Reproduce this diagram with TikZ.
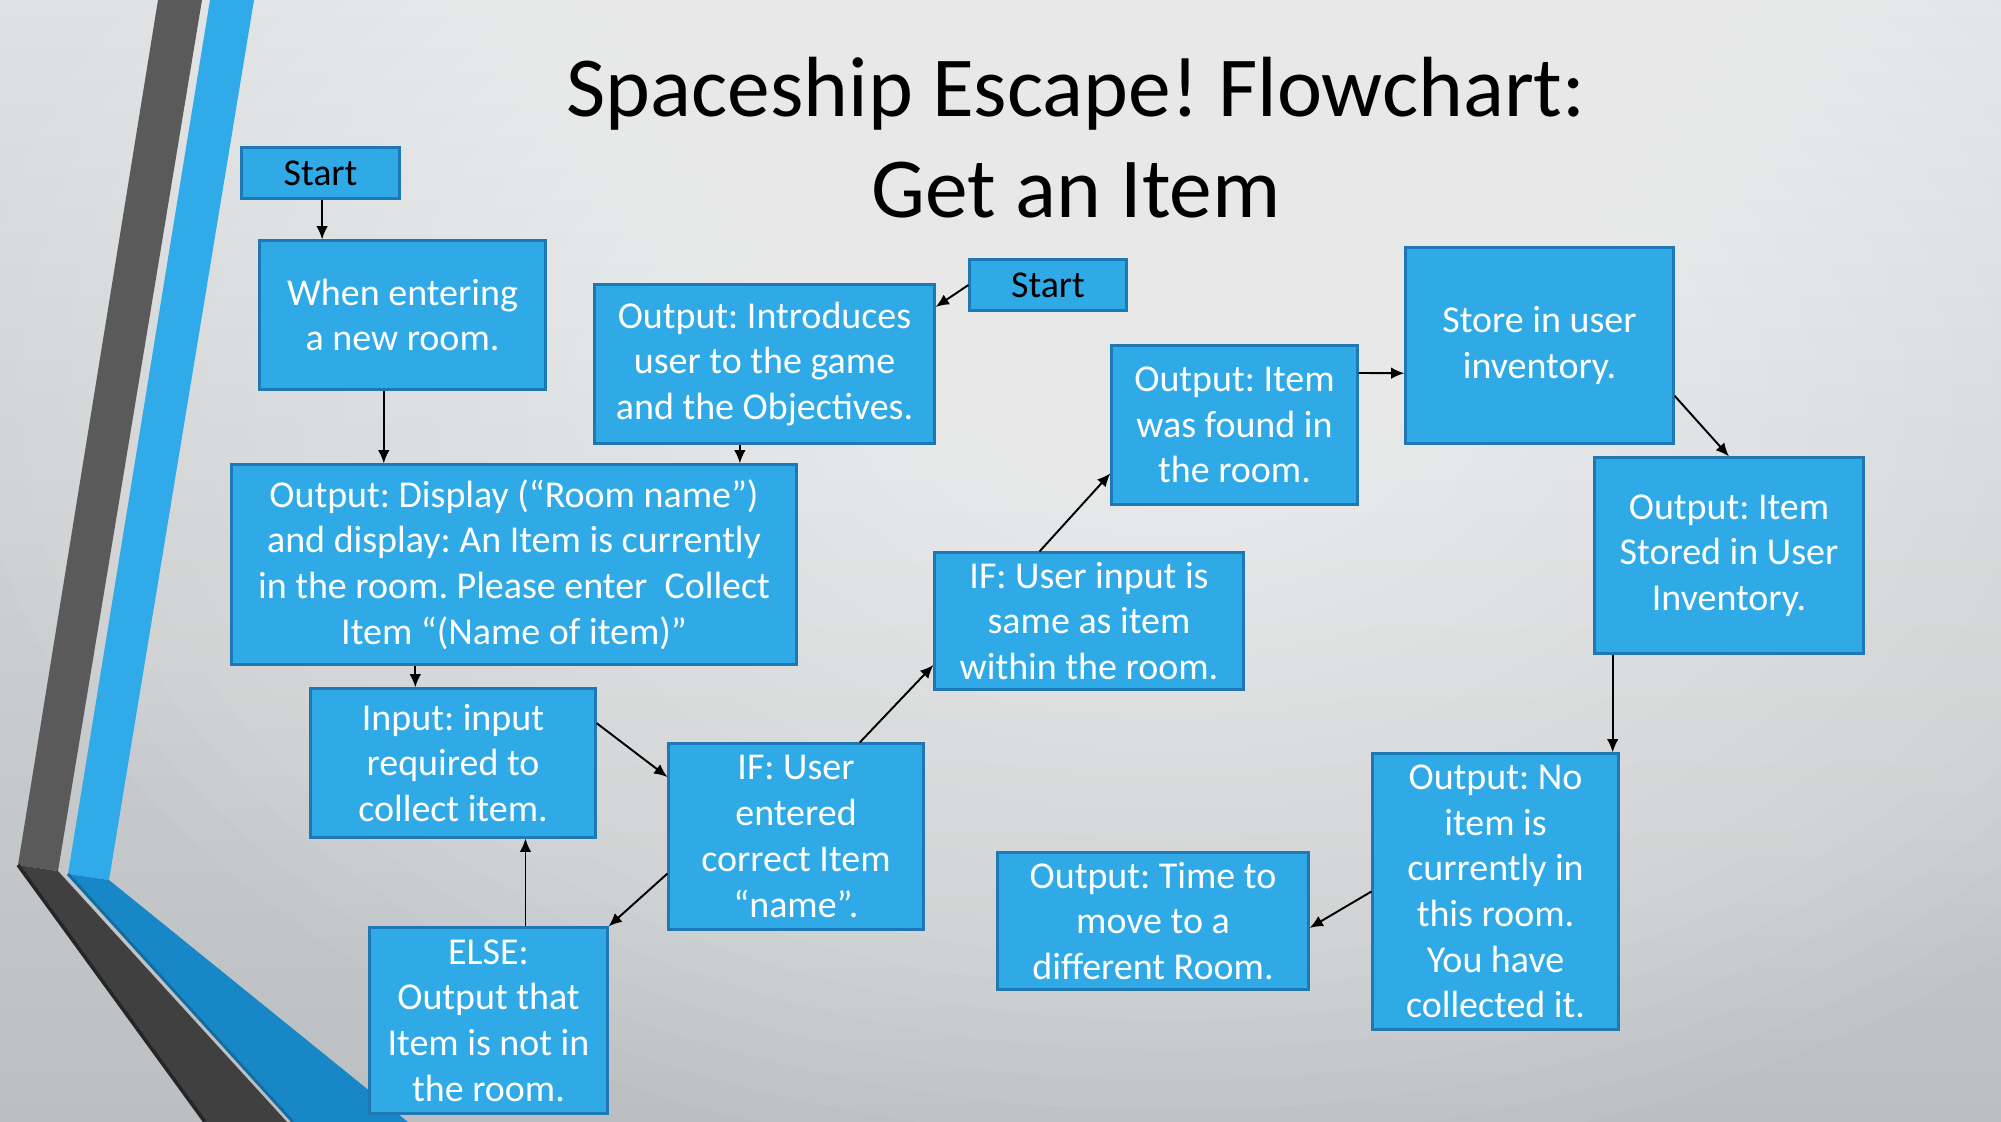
\documentclass[tikz,border=0pt]{standalone}
\usepackage{fontspec}
\setmainfont{Carlito}
\usetikzlibrary{arrows.meta,calc}

\definecolor{boxfill}{HTML}{30AAE7}
\definecolor{boxline}{HTML}{1E78B4}
\definecolor{bgtop}{HTML}{DFE1E2}
\definecolor{bgbot}{HTML}{BBBFC1}
\definecolor{stripedark}{HTML}{5A5A5A}
\definecolor{stripedarklow}{HTML}{404040}
\definecolor{stripeblue}{HTML}{30AAE8}
\definecolor{stripebluelow}{HTML}{1787C7}

\frenchspacing

\begin{document}
\begin{tikzpicture}[x=0.01cm,y=-0.01cm,
  stepbox/.style={draw=boxline, line width=0.85pt, fill=boxfill, text=white,
    align=center, inner sep=0pt, font=\fontsize{10.8}{13}\selectfont},
  startbox/.style={stepbox, text=black},
  flow/.style={-{Latex[length=3.8pt,width=3.3pt]}, line width=0.55pt, black},
  titletext/.style={font=\fontsize{24.3}{29}\selectfont, anchor=base, inner sep=0pt}]

% slide background
\useasboundingbox (0,0) rectangle (2001,1122);
\shade[top color=bgtop, bottom color=bgbot] (0,0) rectangle (2001,1122);
\begin{scope}
  \clip (0,0) rectangle (2001,1122);
  \foreach \r in {1,...,26}
    \fill[white, fill opacity=0.045] (1170,390) ellipse ({46*\r} and {30*\r});
\end{scope}

% left chevron decoration
\fill[stripedark] (158,0) -- (202,0) -- (58,871) -- (18,865) -- cycle;
\fill[stripedarklow] (18,865) -- (58,871) -- (287,1122) -- (205,1122) -- cycle;
\draw[line width=1pt, black!85] (18,865) -- (205,1122);
\fill[stripeblue] (210,0) -- (254,0) -- (109,880) -- (68,874) -- cycle;
\fill[stripebluelow] (68,874) -- (109,880) -- (408,1122) -- (293,1122) -- cycle;
\draw[line width=0.8pt, stripebluelow!80!black] (68,874) -- (293,1122);

% title
\node[titletext] (title1) at (1076,117) {Spaceship Escape! Flowchart:};
\node[titletext] (title2) at (1076,218) {Get an Item};

% flowchart boxes
\node[startbox, minimum width=1.57cm, minimum height=0.50cm] (start1) at (320.5,173) {Start};
\node[stepbox, minimum width=2.85cm, minimum height=1.48cm] (enter) at (402.5,315) {When entering\\a new room.};
\node[stepbox, minimum width=3.39cm, minimum height=1.58cm] (intro) at (764.5,364) {Output: Introduces\\user to the game\\and the Objectives.};
\node[startbox, minimum width=1.56cm, minimum height=0.50cm] (start2) at (1048,285) {Start};
\node[stepbox, minimum width=5.64cm, minimum height=1.99cm] (display) at (514,564.5) {Output: Display (“Room name”)\\and display: An Item is currently\\in the room. Please enter~ Collect\\Item “(Name of item)”};
\node[stepbox, minimum width=2.84cm, minimum height=1.48cm] (input) at (453,763) {Input: input\\required to\\collect item.};
\node[stepbox, minimum width=2.54cm, minimum height=1.85cm] (ifuser) at (796,836.5) {IF: User\\entered\\correct Item\\“name”.};
\node[stepbox, minimum width=2.37cm, minimum height=1.85cm] (else) at (488.5,1020.5) {ELSE:\\Output that\\Item is not in\\the room.};
\node[stepbox, minimum width=3.08cm, minimum height=1.36cm] (ifsame) at (1089,621) {IF: User input is\\same as item\\within the room.};
\node[stepbox, minimum width=2.45cm, minimum height=1.58cm] (found) at (1234.5,425) {Output: Item\\was found in\\the room.};
\node[stepbox, minimum width=2.67cm, minimum height=1.95cm] (store) at (1539.5,345.5) {Store in user\\inventory.};
\node[stepbox, minimum width=2.68cm, minimum height=1.95cm] (stored) at (1729,555.5) {Output: Item\\Stored in User\\Inventory.};
\node[stepbox, minimum width=2.45cm, minimum height=2.75cm] (noitem) at (1495.5,891.5) {Output: No\\item is\\currently in\\this room.\\You have\\collected it.};
\node[stepbox, minimum width=3.10cm, minimum height=1.36cm] (time) at (1153,921) {Output: Time to\\move to a\\different Room.};

% connector end points on box edges
\coordinate (s1) at ($(start1.south west)!0.51!(start1.south east)$);
\coordinate (en) at ($(enter.south west)!0.435!(enter.south east)$);
\coordinate (in) at ($(intro.south west)!0.428!(intro.south east)$);
\coordinate (di) at ($(display.south west)!0.326!(display.south east)$);
\coordinate (inR) at ($(input.north east)!0.236!(input.south east)$);
\coordinate (ifL) at ($(ifuser.north west)!0.184!(ifuser.south west)$);
\coordinate (ifT) at ($(ifuser.north west)!0.748!(ifuser.north east)$);
\coordinate (ifL2) at ($(ifuser.north west)!0.697!(ifuser.south west)$);
\coordinate (smL) at ($(ifsame.north west)!0.816!(ifsame.south west)$);
\coordinate (elT) at ($(else.north west)!0.654!(else.north east)$);
\coordinate (inoR) at ($(intro.north east)!0.146!(intro.south east)$);
\coordinate (smT) at ($(ifsame.north west)!0.341!(ifsame.north east)$);
\coordinate (fdL) at ($(found.north west)!0.80!(found.south west)$);
\coordinate (fdR) at ($(found.north east)!0.177!(found.south east)$);
\coordinate (stL) at ($(store.north west)!0.64!(store.south west)$);
\coordinate (stR) at ($(store.north east)!0.754!(store.south east)$);
\coordinate (sdB) at ($(stored.south west)!0.071!(stored.south east)$);
\coordinate (tmR) at ($(time.north east)!0.55!(time.south east)$);

% connectors
\draw[flow] (s1) -- (s1 |- enter.north);
\draw[flow] (en) -- (en |- display.north);
\draw[flow] (in) -- (in |- display.north);
\draw[flow] (di) -- (di |- input.north);
\draw[flow] (inR) -- (ifL);
\draw[flow] (ifT) -- (smL);
\draw[flow] (ifL2) -- (else.north east);
\draw[flow] (elT) -- (elT |- input.south);
\draw[flow] (start2.west) -- (inoR);
\draw[flow] (smT) -- (fdL);
\draw[flow] (fdR) -- (stL);
\draw[flow] (stR) -- (stored.north);
\draw[flow] (sdB) -- (sdB |- noitem.north);
\draw[flow] (noitem.west) -- (tmR);

\end{tikzpicture}
\end{document}
